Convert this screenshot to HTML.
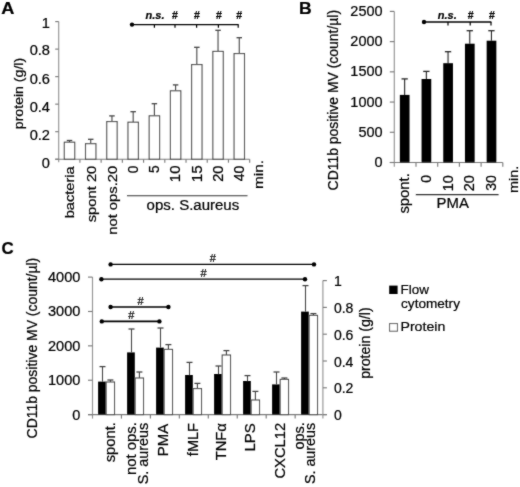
<!DOCTYPE html>
<html><head><meta charset="utf-8"><title>Figure</title>
<style>
html,body{margin:0;padding:0;background:#fff;}
body{width:520px;height:487px;overflow:hidden;}
svg{display:block;font-family:"Liberation Sans",sans-serif;fill:#000;}
text{stroke:#000;stroke-width:0.22px;}
</style></head>
<body>
<svg width="520" height="487" viewBox="0 0 520 487">
<defs><filter id="soft" x="0" y="0" width="520" height="487" filterUnits="userSpaceOnUse"><feConvolveMatrix order="3" kernelMatrix="1 2 1 2 20 2 1 2 1" divisor="32" edgeMode="duplicate" preserveAlpha="false"/></filter></defs>
<rect x="0" y="0" width="520" height="487" fill="#fff"/>
<g filter="url(#soft)">
<text x="1.15" y="14.30" font-size="16.5" font-weight="bold" font-style="normal" textLength="13.13" lengthAdjust="spacingAndGlyphs">A</text>
<line x1="58.70" y1="21.60" x2="58.70" y2="162.20" stroke="#949494" stroke-width="1.15"/>
<line x1="55.20" y1="159.20" x2="249.68" y2="159.20" stroke="#7c7c7c" stroke-width="1.15"/>
<line x1="55.20" y1="159.20" x2="58.70" y2="159.20" stroke="#7c7c7c" stroke-width="1.15"/>
<line x1="55.20" y1="131.68" x2="58.70" y2="131.68" stroke="#7c7c7c" stroke-width="1.15"/>
<line x1="55.20" y1="104.16" x2="58.70" y2="104.16" stroke="#7c7c7c" stroke-width="1.15"/>
<line x1="55.20" y1="76.64" x2="58.70" y2="76.64" stroke="#7c7c7c" stroke-width="1.15"/>
<line x1="55.20" y1="49.12" x2="58.70" y2="49.12" stroke="#7c7c7c" stroke-width="1.15"/>
<line x1="55.20" y1="21.60" x2="58.70" y2="21.60" stroke="#7c7c7c" stroke-width="1.15"/>
<line x1="79.92" y1="159.20" x2="79.92" y2="162.70" stroke="#7c7c7c" stroke-width="1.15"/>
<line x1="101.14" y1="159.20" x2="101.14" y2="162.70" stroke="#7c7c7c" stroke-width="1.15"/>
<line x1="122.36" y1="159.20" x2="122.36" y2="162.70" stroke="#7c7c7c" stroke-width="1.15"/>
<line x1="143.58" y1="159.20" x2="143.58" y2="162.70" stroke="#7c7c7c" stroke-width="1.15"/>
<line x1="164.80" y1="159.20" x2="164.80" y2="162.70" stroke="#7c7c7c" stroke-width="1.15"/>
<line x1="186.02" y1="159.20" x2="186.02" y2="162.70" stroke="#7c7c7c" stroke-width="1.15"/>
<line x1="207.24" y1="159.20" x2="207.24" y2="162.70" stroke="#7c7c7c" stroke-width="1.15"/>
<line x1="228.46" y1="159.20" x2="228.46" y2="162.70" stroke="#7c7c7c" stroke-width="1.15"/>
<line x1="249.68" y1="159.20" x2="249.68" y2="162.70" stroke="#7c7c7c" stroke-width="1.15"/>
<text x="50.00" y="27.70" font-size="14.2" text-anchor="end" font-weight="normal" font-style="normal" textLength="8.13" lengthAdjust="spacingAndGlyphs">1</text>
<text x="50.00" y="55.40" font-size="14.2" text-anchor="end" font-weight="normal" font-style="normal" textLength="20.33" lengthAdjust="spacingAndGlyphs">0.8</text>
<text x="50.00" y="83.50" font-size="14.2" text-anchor="end" font-weight="normal" font-style="normal" textLength="20.33" lengthAdjust="spacingAndGlyphs">0.6</text>
<text x="50.00" y="112.10" font-size="14.2" text-anchor="end" font-weight="normal" font-style="normal" textLength="20.33" lengthAdjust="spacingAndGlyphs">0.4</text>
<text x="50.00" y="140.40" font-size="14.2" text-anchor="end" font-weight="normal" font-style="normal" textLength="20.33" lengthAdjust="spacingAndGlyphs">0.2</text>
<text x="50.00" y="167.70" font-size="14.2" text-anchor="end" font-weight="normal" font-style="normal" textLength="8.13" lengthAdjust="spacingAndGlyphs">0</text>
<text x="22.60" y="129.15" font-size="12.8" font-weight="normal" font-style="normal" transform="rotate(-90 22.60 129.15)" textLength="71.29" lengthAdjust="spacingAndGlyphs">protein (g/l)</text>
<line x1="69.51" y1="140.50" x2="69.51" y2="142.20" stroke="#454545" stroke-width="1.1"/>
<line x1="66.76" y1="140.50" x2="72.26" y2="140.50" stroke="#454545" stroke-width="1.3"/>
<rect x="64.31" y="142.20" width="10.40" height="17.00" fill="#fff" stroke="#454545" stroke-width="1.1"/>
<line x1="90.73" y1="139.30" x2="90.73" y2="143.70" stroke="#454545" stroke-width="1.1"/>
<line x1="87.98" y1="139.30" x2="93.48" y2="139.30" stroke="#454545" stroke-width="1.3"/>
<rect x="85.53" y="143.70" width="10.40" height="15.50" fill="#fff" stroke="#454545" stroke-width="1.1"/>
<line x1="111.95" y1="115.90" x2="111.95" y2="121.60" stroke="#454545" stroke-width="1.1"/>
<line x1="109.20" y1="115.90" x2="114.70" y2="115.90" stroke="#454545" stroke-width="1.3"/>
<rect x="106.75" y="121.60" width="10.40" height="37.60" fill="#fff" stroke="#454545" stroke-width="1.1"/>
<line x1="133.17" y1="111.70" x2="133.17" y2="122.20" stroke="#454545" stroke-width="1.1"/>
<line x1="130.42" y1="111.70" x2="135.92" y2="111.70" stroke="#454545" stroke-width="1.3"/>
<rect x="127.97" y="122.20" width="10.40" height="37.00" fill="#fff" stroke="#454545" stroke-width="1.1"/>
<line x1="154.39" y1="103.70" x2="154.39" y2="115.80" stroke="#454545" stroke-width="1.1"/>
<line x1="151.64" y1="103.70" x2="157.14" y2="103.70" stroke="#454545" stroke-width="1.3"/>
<rect x="149.19" y="115.80" width="10.40" height="43.40" fill="#fff" stroke="#454545" stroke-width="1.1"/>
<line x1="175.61" y1="84.90" x2="175.61" y2="90.80" stroke="#454545" stroke-width="1.1"/>
<line x1="172.86" y1="84.90" x2="178.36" y2="84.90" stroke="#454545" stroke-width="1.3"/>
<rect x="170.41" y="90.80" width="10.40" height="68.40" fill="#fff" stroke="#454545" stroke-width="1.1"/>
<line x1="196.83" y1="47.30" x2="196.83" y2="64.60" stroke="#454545" stroke-width="1.1"/>
<line x1="194.08" y1="47.30" x2="199.58" y2="47.30" stroke="#454545" stroke-width="1.3"/>
<rect x="191.63" y="64.60" width="10.40" height="94.60" fill="#fff" stroke="#454545" stroke-width="1.1"/>
<line x1="218.05" y1="30.30" x2="218.05" y2="51.40" stroke="#454545" stroke-width="1.1"/>
<line x1="215.30" y1="30.30" x2="220.80" y2="30.30" stroke="#454545" stroke-width="1.3"/>
<rect x="212.85" y="51.40" width="10.40" height="107.80" fill="#fff" stroke="#454545" stroke-width="1.1"/>
<line x1="239.27" y1="37.70" x2="239.27" y2="53.60" stroke="#454545" stroke-width="1.1"/>
<line x1="236.52" y1="37.70" x2="242.02" y2="37.70" stroke="#454545" stroke-width="1.3"/>
<rect x="234.07" y="53.60" width="10.40" height="105.60" fill="#fff" stroke="#454545" stroke-width="1.1"/>
<text x="74.51" y="218.28" font-size="12.8" font-weight="normal" font-style="normal" transform="rotate(-90 74.51 218.28)" textLength="52.04" lengthAdjust="spacingAndGlyphs">bacteria</text>
<text x="95.73" y="222.24" font-size="12.8" font-weight="normal" font-style="normal" transform="rotate(-90 95.73 222.24)" textLength="56.57" lengthAdjust="spacingAndGlyphs">spont 20</text>
<text x="116.95" y="234.84" font-size="12.8" font-weight="normal" font-style="normal" transform="rotate(-90 116.95 234.84)" textLength="69.23" lengthAdjust="spacingAndGlyphs">not ops.20</text>
<text x="138.07" y="173.15" font-size="14" font-weight="normal" font-style="normal" transform="rotate(-90 138.07 173.15)" textLength="7.65" lengthAdjust="spacingAndGlyphs">0</text>
<text x="159.29" y="173.05" font-size="14" font-weight="normal" font-style="normal" transform="rotate(-90 159.29 173.05)" textLength="7.69" lengthAdjust="spacingAndGlyphs">5</text>
<text x="180.51" y="182.20" font-size="14" font-weight="normal" font-style="normal" transform="rotate(-90 180.51 182.20)" textLength="16.68" lengthAdjust="spacingAndGlyphs">10</text>
<text x="201.73" y="182.21" font-size="14" font-weight="normal" font-style="normal" transform="rotate(-90 201.73 182.21)" textLength="16.85" lengthAdjust="spacingAndGlyphs">15</text>
<text x="222.95" y="181.73" font-size="14" font-weight="normal" font-style="normal" transform="rotate(-90 222.95 181.73)" textLength="16.20" lengthAdjust="spacingAndGlyphs">20</text>
<text x="244.17" y="181.28" font-size="14" font-weight="normal" font-style="normal" transform="rotate(-90 244.17 181.28)" textLength="15.74" lengthAdjust="spacingAndGlyphs">40</text>
<text x="263.30" y="188.98" font-size="12.6" font-weight="normal" font-style="normal" transform="rotate(-90 263.30 188.98)" textLength="29.05" lengthAdjust="spacingAndGlyphs">min.</text>
<line x1="127.00" y1="195.80" x2="247.50" y2="195.80" stroke="#333" stroke-width="1.1"/>
<text x="146.60" y="210.00" font-size="14" font-weight="normal" font-style="normal" textLength="92.60" lengthAdjust="spacingAndGlyphs">ops. S.aureus</text>
<line x1="132.00" y1="24.60" x2="238.60" y2="24.60" stroke="#000" stroke-width="1.3"/>
<circle cx="132.00" cy="24.60" r="2.2" fill="#000"/>
<line x1="154.40" y1="24.60" x2="154.40" y2="27.80" stroke="#000" stroke-width="1.2"/>
<line x1="175.00" y1="24.60" x2="175.00" y2="27.80" stroke="#000" stroke-width="1.2"/>
<line x1="196.60" y1="24.60" x2="196.60" y2="27.80" stroke="#000" stroke-width="1.2"/>
<line x1="218.40" y1="24.60" x2="218.40" y2="27.80" stroke="#000" stroke-width="1.2"/>
<line x1="238.20" y1="24.60" x2="238.20" y2="27.80" stroke="#000" stroke-width="1.2"/>
<text x="155.00" y="19.00" font-size="11" text-anchor="middle" font-weight="bold" font-style="italic">n.s.</text>
<text x="175.00" y="19.00" font-size="10.5" text-anchor="middle" font-weight="bold" font-style="normal">#</text>
<text x="197.00" y="19.00" font-size="10.5" text-anchor="middle" font-weight="bold" font-style="normal">#</text>
<text x="219.00" y="19.00" font-size="10.5" text-anchor="middle" font-weight="bold" font-style="normal">#</text>
<text x="239.20" y="19.00" font-size="10.5" text-anchor="middle" font-weight="bold" font-style="normal">#</text>
<text x="299.07" y="14.30" font-size="16.5" font-weight="bold" font-style="normal" textLength="12.67" lengthAdjust="spacingAndGlyphs">B</text>
<line x1="394.30" y1="11.40" x2="394.30" y2="166.70" stroke="#949494" stroke-width="1.15"/>
<line x1="389.80" y1="162.50" x2="502.80" y2="162.50" stroke="#7c7c7c" stroke-width="1.15"/>
<line x1="389.80" y1="162.50" x2="394.30" y2="162.50" stroke="#7c7c7c" stroke-width="1.15"/>
<text x="382.60" y="167.10" font-size="14" text-anchor="end" font-weight="normal" font-style="normal" textLength="8.06" lengthAdjust="spacingAndGlyphs">0</text>
<line x1="389.80" y1="132.28" x2="394.30" y2="132.28" stroke="#7c7c7c" stroke-width="1.15"/>
<text x="382.60" y="136.88" font-size="14" text-anchor="end" font-weight="normal" font-style="normal" textLength="24.17" lengthAdjust="spacingAndGlyphs">500</text>
<line x1="389.80" y1="102.06" x2="394.30" y2="102.06" stroke="#7c7c7c" stroke-width="1.15"/>
<text x="382.60" y="106.66" font-size="14" text-anchor="end" font-weight="normal" font-style="normal" textLength="32.23" lengthAdjust="spacingAndGlyphs">1000</text>
<line x1="389.80" y1="71.84" x2="394.30" y2="71.84" stroke="#7c7c7c" stroke-width="1.15"/>
<text x="382.60" y="76.44" font-size="14" text-anchor="end" font-weight="normal" font-style="normal" textLength="32.23" lengthAdjust="spacingAndGlyphs">1500</text>
<line x1="389.80" y1="41.62" x2="394.30" y2="41.62" stroke="#7c7c7c" stroke-width="1.15"/>
<text x="382.60" y="46.22" font-size="14" text-anchor="end" font-weight="normal" font-style="normal" textLength="32.23" lengthAdjust="spacingAndGlyphs">2000</text>
<line x1="389.80" y1="11.40" x2="394.30" y2="11.40" stroke="#7c7c7c" stroke-width="1.15"/>
<text x="382.60" y="16.00" font-size="14" text-anchor="end" font-weight="normal" font-style="normal" textLength="32.23" lengthAdjust="spacingAndGlyphs">2500</text>
<line x1="416.00" y1="162.50" x2="416.00" y2="166.70" stroke="#7c7c7c" stroke-width="1.15"/>
<line x1="437.70" y1="162.50" x2="437.70" y2="166.70" stroke="#7c7c7c" stroke-width="1.15"/>
<line x1="459.40" y1="162.50" x2="459.40" y2="166.70" stroke="#7c7c7c" stroke-width="1.15"/>
<line x1="481.10" y1="162.50" x2="481.10" y2="166.70" stroke="#7c7c7c" stroke-width="1.15"/>
<line x1="502.80" y1="162.50" x2="502.80" y2="166.70" stroke="#7c7c7c" stroke-width="1.15"/>
<text x="338.30" y="190.40" font-size="14" font-weight="normal" font-style="normal" transform="rotate(-90 338.30 190.40)" textLength="180.44" lengthAdjust="spacingAndGlyphs">CD11b positive MV (count/µl)</text>
<line x1="404.65" y1="78.90" x2="404.65" y2="94.90" stroke="#262626" stroke-width="1.1"/>
<line x1="401.50" y1="78.90" x2="407.80" y2="78.90" stroke="#262626" stroke-width="1.3"/>
<rect x="399.85" y="94.90" width="9.70" height="67.60" fill="#000"/>
<line x1="426.35" y1="71.40" x2="426.35" y2="79.00" stroke="#262626" stroke-width="1.1"/>
<line x1="423.20" y1="71.40" x2="429.50" y2="71.40" stroke="#262626" stroke-width="1.3"/>
<rect x="421.55" y="79.00" width="9.70" height="83.50" fill="#000"/>
<line x1="448.05" y1="51.70" x2="448.05" y2="63.20" stroke="#262626" stroke-width="1.1"/>
<line x1="444.90" y1="51.70" x2="451.20" y2="51.70" stroke="#262626" stroke-width="1.3"/>
<rect x="443.25" y="63.20" width="9.70" height="99.30" fill="#000"/>
<line x1="469.75" y1="30.70" x2="469.75" y2="43.70" stroke="#262626" stroke-width="1.1"/>
<line x1="466.60" y1="30.70" x2="472.90" y2="30.70" stroke="#262626" stroke-width="1.3"/>
<rect x="464.95" y="43.70" width="9.70" height="118.80" fill="#000"/>
<line x1="491.45" y1="30.70" x2="491.45" y2="40.70" stroke="#262626" stroke-width="1.1"/>
<line x1="488.30" y1="30.70" x2="494.60" y2="30.70" stroke="#262626" stroke-width="1.3"/>
<rect x="486.65" y="40.70" width="9.70" height="121.80" fill="#000"/>
<text x="408.70" y="213.54" font-size="14" font-weight="normal" font-style="normal" transform="rotate(-90 408.70 213.54)" textLength="40.39" lengthAdjust="spacingAndGlyphs">spont.</text>
<text x="431.00" y="182.86" font-size="14" font-weight="normal" font-style="normal" transform="rotate(-90 431.00 182.86)" textLength="7.76" lengthAdjust="spacingAndGlyphs">0</text>
<text x="452.60" y="191.15" font-size="14" font-weight="normal" font-style="normal" transform="rotate(-90 452.60 191.15)" textLength="16.02" lengthAdjust="spacingAndGlyphs">10</text>
<text x="474.50" y="191.22" font-size="14" font-weight="normal" font-style="normal" transform="rotate(-90 474.50 191.22)" textLength="16.09" lengthAdjust="spacingAndGlyphs">20</text>
<text x="496.00" y="190.76" font-size="14" font-weight="normal" font-style="normal" transform="rotate(-90 496.00 190.76)" textLength="15.61" lengthAdjust="spacingAndGlyphs">30</text>
<text x="517.60" y="192.91" font-size="13.2" font-weight="normal" font-style="normal" transform="rotate(-90 517.60 192.91)" textLength="27.30" lengthAdjust="spacingAndGlyphs">min.</text>
<line x1="415.80" y1="194.60" x2="498.60" y2="194.60" stroke="#333" stroke-width="1.1"/>
<text x="436.61" y="208.30" font-size="14" font-weight="normal" font-style="normal" textLength="32.30" lengthAdjust="spacingAndGlyphs">PMA</text>
<line x1="424.00" y1="22.00" x2="491.40" y2="22.00" stroke="#000" stroke-width="1.3"/>
<circle cx="424.00" cy="22.00" r="2.2" fill="#000"/>
<line x1="448.00" y1="22.00" x2="448.00" y2="25.40" stroke="#000" stroke-width="1.2"/>
<line x1="470.20" y1="22.00" x2="470.20" y2="25.40" stroke="#000" stroke-width="1.2"/>
<line x1="491.00" y1="22.00" x2="491.00" y2="25.40" stroke="#000" stroke-width="1.2"/>
<text x="447.30" y="19.00" font-size="11" text-anchor="middle" font-weight="bold" font-style="italic">n.s.</text>
<text x="470.60" y="19.00" font-size="10.5" text-anchor="middle" font-weight="bold" font-style="normal">#</text>
<text x="492.00" y="19.00" font-size="10.5" text-anchor="middle" font-weight="bold" font-style="normal">#</text>
<text x="1.52" y="253.90" font-size="16.5" font-weight="bold" font-style="normal" textLength="12.22" lengthAdjust="spacingAndGlyphs">C</text>
<line x1="92.50" y1="277.10" x2="92.50" y2="418.60" stroke="#949494" stroke-width="1.15"/>
<line x1="88.00" y1="414.60" x2="326.90" y2="414.60" stroke="#7c7c7c" stroke-width="1.15"/>
<line x1="88.00" y1="414.60" x2="92.50" y2="414.60" stroke="#7c7c7c" stroke-width="1.15"/>
<text x="80.40" y="419.50" font-size="14" text-anchor="end" font-weight="normal" font-style="normal" textLength="8.10" lengthAdjust="spacingAndGlyphs">0</text>
<line x1="88.00" y1="380.23" x2="92.50" y2="380.23" stroke="#7c7c7c" stroke-width="1.15"/>
<text x="80.40" y="385.12" font-size="14" text-anchor="end" font-weight="normal" font-style="normal" textLength="32.39" lengthAdjust="spacingAndGlyphs">1000</text>
<line x1="88.00" y1="345.85" x2="92.50" y2="345.85" stroke="#7c7c7c" stroke-width="1.15"/>
<text x="80.40" y="350.75" font-size="14" text-anchor="end" font-weight="normal" font-style="normal" textLength="32.39" lengthAdjust="spacingAndGlyphs">2000</text>
<line x1="88.00" y1="311.48" x2="92.50" y2="311.48" stroke="#7c7c7c" stroke-width="1.15"/>
<text x="80.40" y="316.38" font-size="14" text-anchor="end" font-weight="normal" font-style="normal" textLength="32.39" lengthAdjust="spacingAndGlyphs">3000</text>
<line x1="88.00" y1="277.10" x2="92.50" y2="277.10" stroke="#7c7c7c" stroke-width="1.15"/>
<text x="80.40" y="282.00" font-size="14" text-anchor="end" font-weight="normal" font-style="normal" textLength="32.39" lengthAdjust="spacingAndGlyphs">4000</text>
<line x1="121.45" y1="414.60" x2="121.45" y2="418.60" stroke="#7c7c7c" stroke-width="1.15"/>
<line x1="150.40" y1="414.60" x2="150.40" y2="418.60" stroke="#7c7c7c" stroke-width="1.15"/>
<line x1="179.35" y1="414.60" x2="179.35" y2="418.60" stroke="#7c7c7c" stroke-width="1.15"/>
<line x1="208.30" y1="414.60" x2="208.30" y2="418.60" stroke="#7c7c7c" stroke-width="1.15"/>
<line x1="237.25" y1="414.60" x2="237.25" y2="418.60" stroke="#7c7c7c" stroke-width="1.15"/>
<line x1="266.20" y1="414.60" x2="266.20" y2="418.60" stroke="#7c7c7c" stroke-width="1.15"/>
<line x1="295.15" y1="414.60" x2="295.15" y2="418.60" stroke="#7c7c7c" stroke-width="1.15"/>
<line x1="322.90" y1="280.60" x2="322.90" y2="418.60" stroke="#949494" stroke-width="1.15"/>
<line x1="322.90" y1="414.60" x2="326.90" y2="414.60" stroke="#7c7c7c" stroke-width="1.15"/>
<text x="333.90" y="420.10" font-size="14" text-anchor="start" font-weight="normal" font-style="normal">0</text>
<line x1="322.90" y1="387.80" x2="326.90" y2="387.80" stroke="#7c7c7c" stroke-width="1.15"/>
<text x="333.90" y="393.30" font-size="14" text-anchor="start" font-weight="normal" font-style="normal">0.2</text>
<line x1="322.90" y1="361.00" x2="326.90" y2="361.00" stroke="#7c7c7c" stroke-width="1.15"/>
<text x="333.90" y="366.50" font-size="14" text-anchor="start" font-weight="normal" font-style="normal">0.4</text>
<line x1="322.90" y1="334.20" x2="326.90" y2="334.20" stroke="#7c7c7c" stroke-width="1.15"/>
<text x="333.90" y="339.70" font-size="14" text-anchor="start" font-weight="normal" font-style="normal">0.6</text>
<line x1="322.90" y1="307.40" x2="326.90" y2="307.40" stroke="#7c7c7c" stroke-width="1.15"/>
<text x="333.90" y="312.90" font-size="14" text-anchor="start" font-weight="normal" font-style="normal">0.8</text>
<line x1="322.90" y1="280.60" x2="326.90" y2="280.60" stroke="#7c7c7c" stroke-width="1.15"/>
<text x="333.90" y="286.10" font-size="14" text-anchor="start" font-weight="normal" font-style="normal">1</text>
<text x="37.30" y="438.40" font-size="14" font-weight="normal" font-style="normal" transform="rotate(-90 37.30 438.40)" textLength="180.64" lengthAdjust="spacingAndGlyphs">CD11b positive MV (count/µl)</text>
<text x="369.60" y="378.85" font-size="14" font-weight="normal" font-style="normal" transform="rotate(-90 369.60 378.85)" textLength="71.50" lengthAdjust="spacingAndGlyphs">protein (g/l)</text>
<line x1="102.50" y1="366.60" x2="102.50" y2="381.60" stroke="#454545" stroke-width="1.1"/>
<line x1="99.50" y1="366.60" x2="105.50" y2="366.60" stroke="#454545" stroke-width="1.3"/>
<rect x="98.10" y="381.60" width="7.70" height="33.00" fill="#000"/>
<line x1="110.40" y1="380.00" x2="110.40" y2="382.00" stroke="#454545" stroke-width="1.1"/>
<line x1="107.40" y1="380.00" x2="113.40" y2="380.00" stroke="#454545" stroke-width="1.3"/>
<rect x="106.20" y="382.00" width="8.30" height="32.60" fill="#fff" stroke="#454545" stroke-width="1.1"/>
<line x1="131.50" y1="329.00" x2="131.50" y2="352.40" stroke="#454545" stroke-width="1.1"/>
<line x1="128.50" y1="329.00" x2="134.50" y2="329.00" stroke="#454545" stroke-width="1.3"/>
<rect x="127.10" y="352.40" width="7.70" height="62.20" fill="#000"/>
<line x1="139.40" y1="372.00" x2="139.40" y2="378.00" stroke="#454545" stroke-width="1.1"/>
<line x1="136.40" y1="372.00" x2="142.40" y2="372.00" stroke="#454545" stroke-width="1.3"/>
<rect x="135.20" y="378.00" width="8.30" height="36.60" fill="#fff" stroke="#454545" stroke-width="1.1"/>
<line x1="160.50" y1="328.00" x2="160.50" y2="347.60" stroke="#454545" stroke-width="1.1"/>
<line x1="157.50" y1="328.00" x2="163.50" y2="328.00" stroke="#454545" stroke-width="1.3"/>
<rect x="156.10" y="347.60" width="7.70" height="67.00" fill="#000"/>
<line x1="168.40" y1="344.60" x2="168.40" y2="349.40" stroke="#454545" stroke-width="1.1"/>
<line x1="165.40" y1="344.60" x2="171.40" y2="344.60" stroke="#454545" stroke-width="1.3"/>
<rect x="164.20" y="349.40" width="8.30" height="65.20" fill="#fff" stroke="#454545" stroke-width="1.1"/>
<line x1="189.50" y1="362.40" x2="189.50" y2="375.00" stroke="#454545" stroke-width="1.1"/>
<line x1="186.50" y1="362.40" x2="192.50" y2="362.40" stroke="#454545" stroke-width="1.3"/>
<rect x="185.10" y="375.00" width="7.70" height="39.60" fill="#000"/>
<line x1="197.40" y1="383.40" x2="197.40" y2="388.60" stroke="#454545" stroke-width="1.1"/>
<line x1="194.40" y1="383.40" x2="200.40" y2="383.40" stroke="#454545" stroke-width="1.3"/>
<rect x="193.20" y="388.60" width="8.30" height="26.00" fill="#fff" stroke="#454545" stroke-width="1.1"/>
<line x1="218.50" y1="366.00" x2="218.50" y2="374.00" stroke="#454545" stroke-width="1.1"/>
<line x1="215.50" y1="366.00" x2="221.50" y2="366.00" stroke="#454545" stroke-width="1.3"/>
<rect x="214.10" y="374.00" width="7.70" height="40.60" fill="#000"/>
<line x1="226.40" y1="350.60" x2="226.40" y2="355.00" stroke="#454545" stroke-width="1.1"/>
<line x1="223.40" y1="350.60" x2="229.40" y2="350.60" stroke="#454545" stroke-width="1.3"/>
<rect x="222.20" y="355.00" width="8.30" height="59.60" fill="#fff" stroke="#454545" stroke-width="1.1"/>
<line x1="247.50" y1="375.60" x2="247.50" y2="381.00" stroke="#454545" stroke-width="1.1"/>
<line x1="244.50" y1="375.60" x2="250.50" y2="375.60" stroke="#454545" stroke-width="1.3"/>
<rect x="243.10" y="381.00" width="7.70" height="33.60" fill="#000"/>
<line x1="255.40" y1="391.40" x2="255.40" y2="400.00" stroke="#454545" stroke-width="1.1"/>
<line x1="252.40" y1="391.40" x2="258.40" y2="391.40" stroke="#454545" stroke-width="1.3"/>
<rect x="251.20" y="400.00" width="8.30" height="14.60" fill="#fff" stroke="#454545" stroke-width="1.1"/>
<line x1="276.50" y1="372.00" x2="276.50" y2="384.40" stroke="#454545" stroke-width="1.1"/>
<line x1="273.50" y1="372.00" x2="279.50" y2="372.00" stroke="#454545" stroke-width="1.3"/>
<rect x="272.10" y="384.40" width="7.70" height="30.20" fill="#000"/>
<line x1="284.40" y1="378.00" x2="284.40" y2="379.40" stroke="#454545" stroke-width="1.1"/>
<line x1="281.40" y1="378.00" x2="287.40" y2="378.00" stroke="#454545" stroke-width="1.3"/>
<rect x="280.20" y="379.40" width="8.30" height="35.20" fill="#fff" stroke="#454545" stroke-width="1.1"/>
<line x1="305.50" y1="285.60" x2="305.50" y2="311.60" stroke="#454545" stroke-width="1.1"/>
<line x1="302.50" y1="285.60" x2="308.50" y2="285.60" stroke="#454545" stroke-width="1.3"/>
<rect x="301.10" y="311.60" width="7.70" height="103.00" fill="#000"/>
<line x1="313.40" y1="313.60" x2="313.40" y2="315.40" stroke="#454545" stroke-width="1.1"/>
<line x1="310.40" y1="313.60" x2="316.40" y2="313.60" stroke="#454545" stroke-width="1.3"/>
<rect x="309.20" y="315.40" width="8.30" height="99.20" fill="#fff" stroke="#454545" stroke-width="1.1"/>
<text x="115.00" y="462.24" font-size="14" font-weight="normal" font-style="normal" transform="rotate(-90 115.00 462.24)" textLength="40.08" lengthAdjust="spacingAndGlyphs">spont.</text>
<text x="135.80" y="475.04" font-size="14" font-weight="normal" font-style="normal" transform="rotate(-90 135.80 475.04)" textLength="52.95" lengthAdjust="spacingAndGlyphs">not ops.</text>
<text x="148.40" y="484.32" font-size="14" font-weight="normal" font-style="normal" transform="rotate(-90 148.40 484.32)" textLength="61.49" lengthAdjust="spacingAndGlyphs">S. aureus</text>
<text x="168.50" y="456.19" font-size="14" font-weight="normal" font-style="normal" transform="rotate(-90 168.50 456.19)" textLength="32.30" lengthAdjust="spacingAndGlyphs">PMA</text>
<text x="198.00" y="456.15" font-size="14" font-weight="normal" font-style="normal" transform="rotate(-90 198.00 456.15)" textLength="33.09" lengthAdjust="spacingAndGlyphs">fMLF</text>
<text x="226.40" y="460.29" font-size="14" font-weight="normal" font-style="normal" transform="rotate(-90 226.40 460.29)" textLength="37.16" lengthAdjust="spacingAndGlyphs">TNFα</text>
<text x="255.40" y="451.60" font-size="14" font-weight="normal" font-style="normal" transform="rotate(-90 255.40 451.60)" textLength="28.35" lengthAdjust="spacingAndGlyphs">LPS</text>
<text x="284.90" y="478.54" font-size="14" font-weight="normal" font-style="normal" transform="rotate(-90 284.90 478.54)" textLength="55.67" lengthAdjust="spacingAndGlyphs">CXCL12</text>
<text x="304.30" y="449.58" font-size="14" font-weight="normal" font-style="normal" transform="rotate(-90 304.30 449.58)" textLength="27.28" lengthAdjust="spacingAndGlyphs">ops.</text>
<text x="315.50" y="484.12" font-size="14" font-weight="normal" font-style="normal" transform="rotate(-90 315.50 484.12)" textLength="61.29" lengthAdjust="spacingAndGlyphs">S. aureus</text>
<line x1="110.60" y1="264.40" x2="314.00" y2="264.40" stroke="#000" stroke-width="1.2"/>
<circle cx="110.60" cy="264.40" r="2.2" fill="#000"/>
<circle cx="314.00" cy="264.40" r="2.2" fill="#000"/>
<line x1="101.40" y1="279.20" x2="305.00" y2="279.20" stroke="#000" stroke-width="1.2"/>
<circle cx="101.40" cy="279.20" r="2.2" fill="#000"/>
<circle cx="305.00" cy="279.20" r="2.2" fill="#000"/>
<line x1="110.60" y1="307.00" x2="168.40" y2="307.00" stroke="#000" stroke-width="1.6"/>
<circle cx="110.60" cy="307.00" r="2.2" fill="#000"/>
<circle cx="168.40" cy="307.00" r="2.2" fill="#000"/>
<line x1="101.80" y1="321.40" x2="159.40" y2="321.40" stroke="#000" stroke-width="1.6"/>
<circle cx="101.80" cy="321.40" r="2.2" fill="#000"/>
<circle cx="159.40" cy="321.40" r="2.2" fill="#000"/>
<text x="140.50" y="304.50" font-size="11" text-anchor="middle" font-weight="normal" font-style="normal">#</text>
<text x="131.40" y="318.80" font-size="11" text-anchor="middle" font-weight="normal" font-style="normal">#</text>
<text x="212.90" y="261.60" font-size="11" text-anchor="middle" font-weight="normal" font-style="normal">#</text>
<text x="203.50" y="276.80" font-size="11" text-anchor="middle" font-weight="normal" font-style="normal">#</text>
<rect x="389.20" y="285.60" width="8.40" height="8.40" fill="#000"/>
<text x="400.52" y="293.60" font-size="13.5" font-weight="normal" font-style="normal" textLength="28.39" lengthAdjust="spacingAndGlyphs">Flow</text>
<text x="401.06" y="308.40" font-size="13.5" font-weight="normal" font-style="normal" textLength="58.89" lengthAdjust="spacingAndGlyphs">cytometry</text>
<rect x="389.60" y="323.60" width="7.80" height="7.60" fill="#fff" stroke="#555" stroke-width="1"/>
<text x="400.47" y="331.20" font-size="13.5" font-weight="normal" font-style="normal" textLength="44.80" lengthAdjust="spacingAndGlyphs">Protein</text>
</g>
</svg>
</body></html>
